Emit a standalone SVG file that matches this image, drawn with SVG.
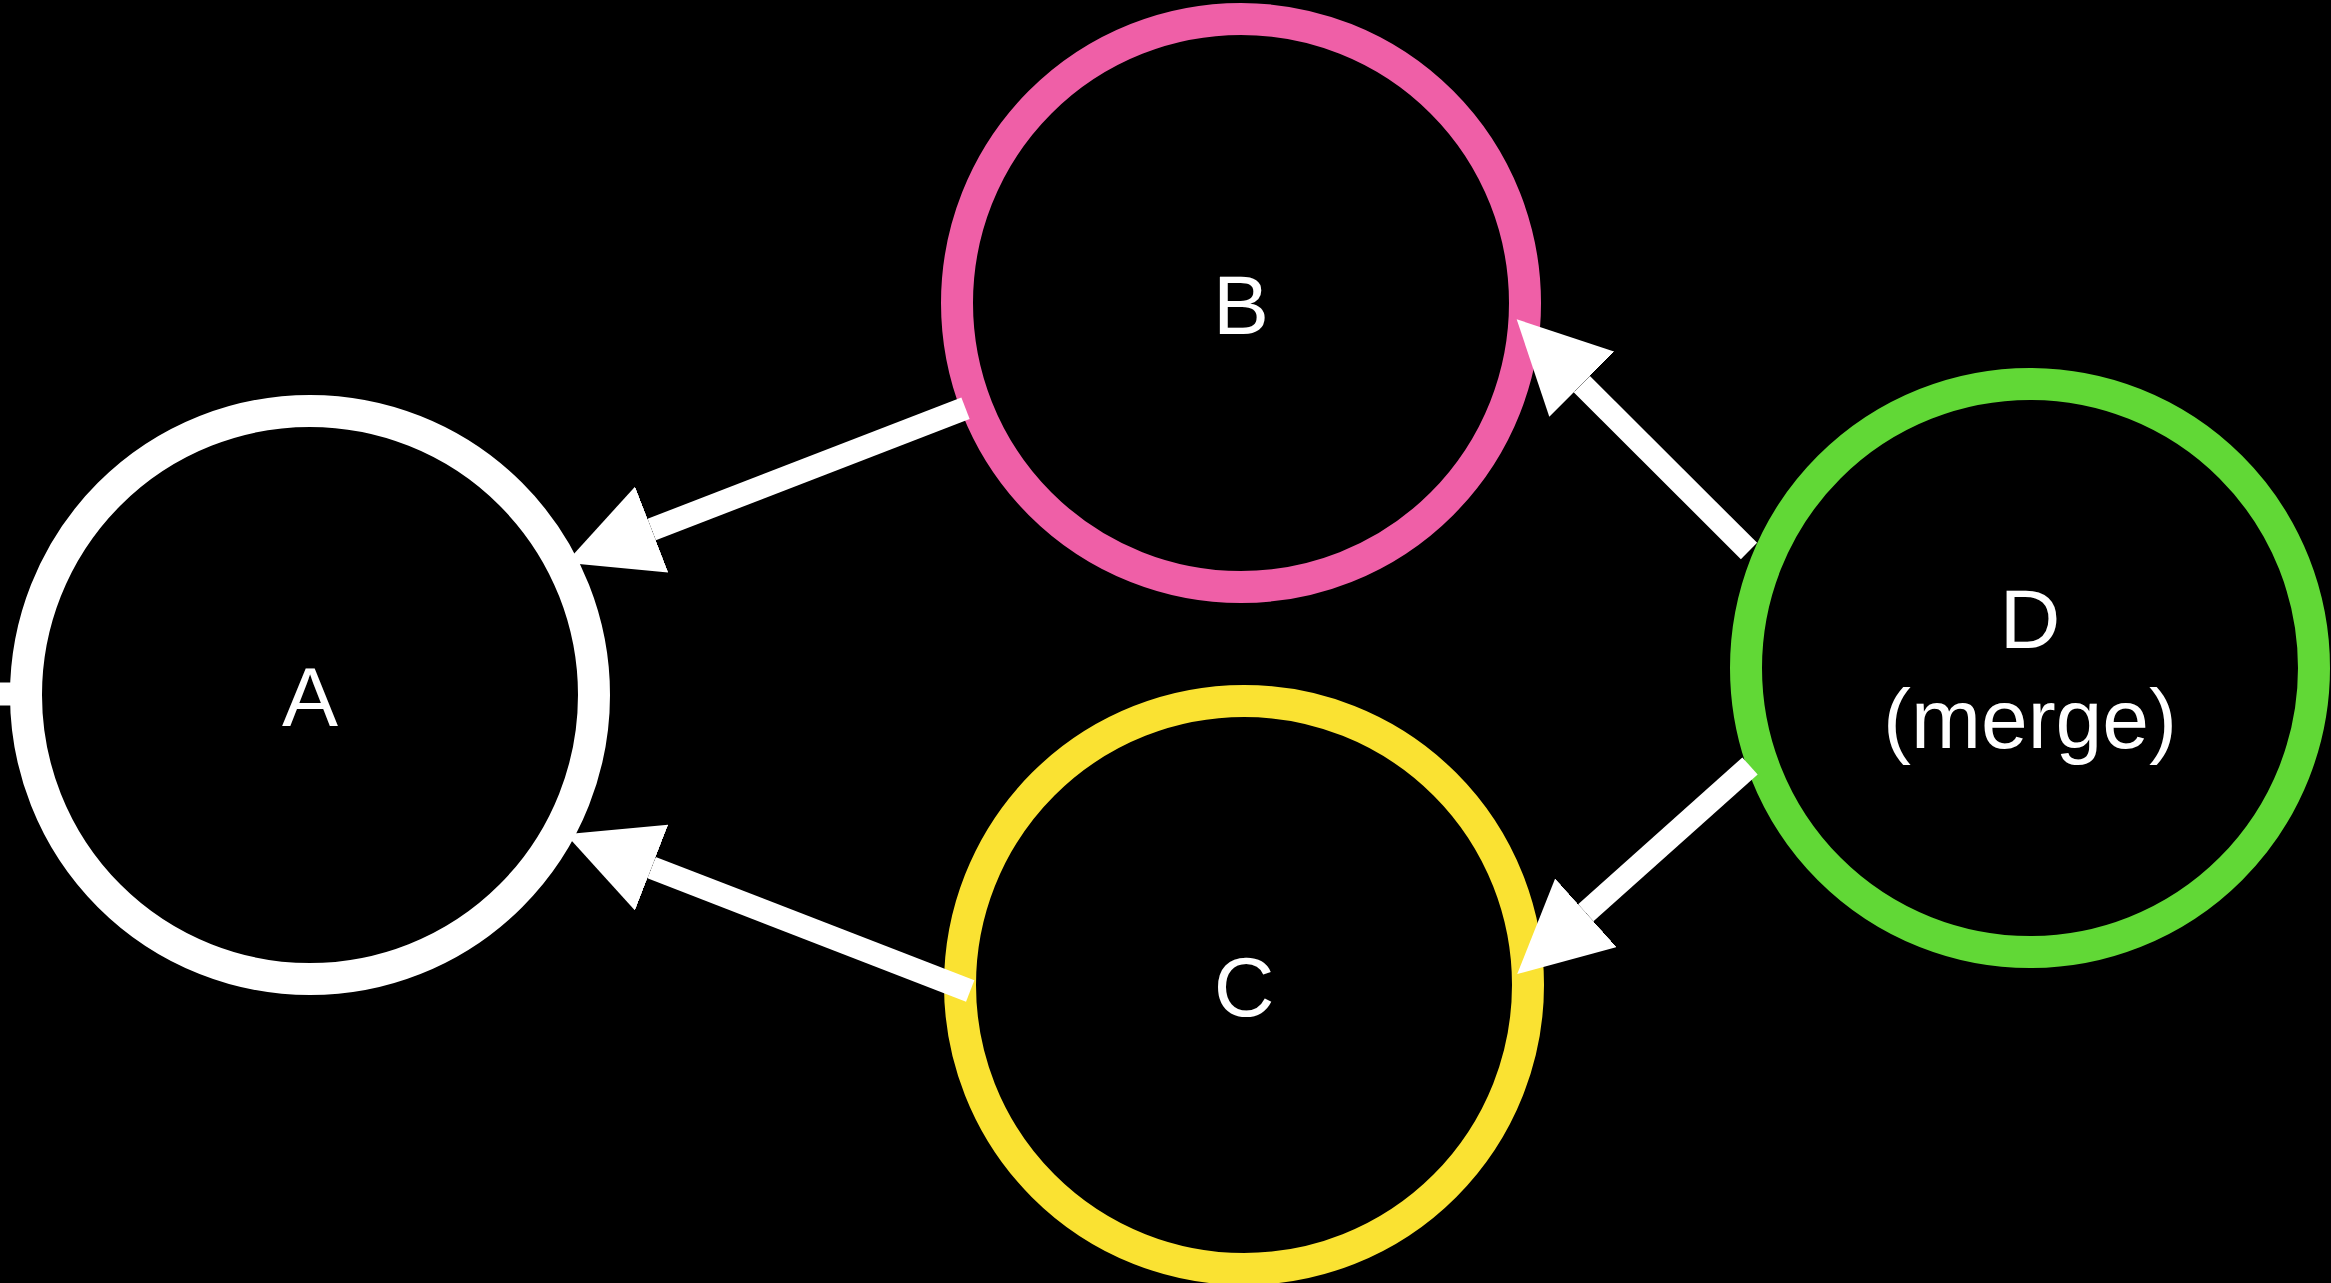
<svg xmlns="http://www.w3.org/2000/svg" width="2331" height="1283" viewBox="0 0 2331 1283">
  <style>
    .node { fill: #000000; stroke-width: 32; }
    .label { font-family: "Liberation Sans", Arial, Helvetica, sans-serif; font-size: 84px; fill: #ffffff; text-anchor: middle; }
    .edge { fill: none; stroke: #ffffff; stroke-width: 23; stroke-linecap: butt; }
  </style>
  <defs>
    <marker id="arrow" markerUnits="userSpaceOnUse" markerWidth="92" markerHeight="92" viewBox="0 0 92 92" refX="0" refY="46" orient="auto">
      <path d="M0,0 L92,46 L0,92 Z" fill="#ffffff"/>
    </marker>
  </defs>
  <rect x="0" y="0" width="2331" height="1283" fill="#000000"/>
  <g id="node-A">
    <circle class="node" cx="310" cy="695" r="284" stroke="#ffffff"/>
    <text class="label" x="310" y="726">A</text>
  </g>
  <g id="node-B">
    <circle class="node" cx="1241" cy="303" r="284" stroke="#EF5FA7"/>
    <text class="label" x="1241" y="334">B</text>
  </g>
  <g id="node-C">
    <circle class="node" cx="1244" cy="985" r="284" stroke="#FAE232"/>
    <text class="label" x="1244" y="1016">C</text>
  </g>
  <g id="node-D">
    <circle class="node" cx="2030" cy="668" r="284" stroke="#61D836"/>
    <text class="label" x="2030" y="648">D</text>
    <text class="label" x="2030" y="748">(merge)</text>
  </g>
  <g id="connectors">
    <path class="edge" d="M-5,694 L30,694"/>
    <path class="edge" d="M965.5,408.3 L651.7,529.5" marker-end="url(#arrow)"/>
    <path class="edge" d="M970.2,991 L651.6,867.6" marker-end="url(#arrow)"/>
    <path class="edge" d="M1749,551 L1581.8,384.2" marker-end="url(#arrow)"/>
    <path class="edge" d="M1750,766 L1585.8,912.8" marker-end="url(#arrow)"/>
  </g>
</svg>
